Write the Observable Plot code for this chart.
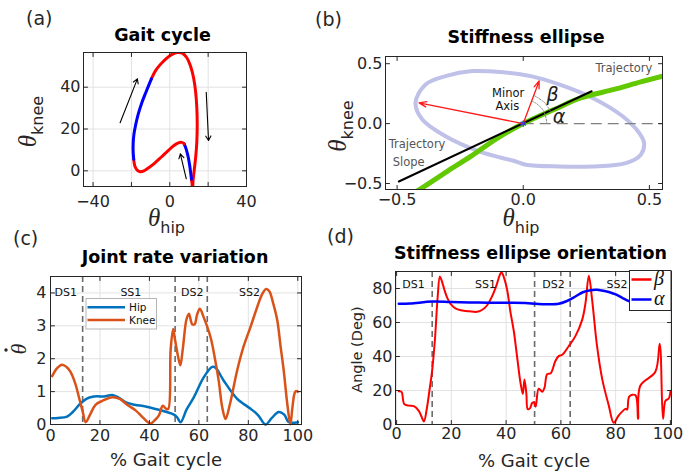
<!DOCTYPE html>
<html><head><meta charset="utf-8">
<script src="https://cdn.jsdelivr.net/npm/d3@7"></script>
<script src="https://cdn.jsdelivr.net/npm/@observablehq/plot@0.6"></script>
<style>
html,body{margin:0;padding:0;background:#fff;}
#root{position:relative;width:683px;height:475px;overflow:hidden;background:#fff;}
#root > svg{position:absolute;}
</style></head><body><div id="root"></div>
<script>
// ---------------- DATA ----------------
// (a) Gait cycle: hip vs knee angle, by segment
const gaitSegColors = ["red", "blue", "red", "blue"];
const gaitSeg0Hip  = [-9.6,-7.5,-5,-2,1,4,6.5,8.8,10.8,12.4,13.5,14.1,14.3,14.1,13.5,12.7,12.1,11.9,11.6,11.3];
const gaitSeg0Knee = [44,47.8,50.8,53.6,55.6,56.6,56.3,54.2,50.2,44.5,37.5,30,22,14,6.5,0,-5,-9,-6,-4];
const gaitSeg1Hip  = [11.3,10.9,10.3,9.5,8.5,7.5];
const gaitSeg1Knee = [-4,-1,3,7,10.5,12.9];
const gaitSeg2Hip  = [7.5,6.2,4.5,2,-1,-4.5,-8,-11,-13.5,-15.5,-17,-18.2,-18.8];
const gaitSeg2Knee = [12.9,13.6,13.4,12,9.5,6.5,3.6,1.5,0,-0.4,0.3,2.2,5.5];
const gaitSeg3Hip  = [-18.8,-19.1,-19.1,-18.7,-17.8,-16.5,-14.8,-12.5,-9.6];
const gaitSeg3Knee = [5.5,9,13,17.5,22,27,32,37.5,44];
const gaitArrowX1 = [-25.9, 19, 8.6];
const gaitArrowY1 = [23, 37.6, -3.8];
const gaitArrowX2 = [-16.9, 20.2, 5.5];
const gaitArrowY2 = [44, 14.5, 8.1];

// (b) Stiffness ellipse
const ellipseX = [-0.427,-0.387,-0.308,-0.202,-0.089,0.030,0.142,0.275,0.394,0.460,0.479,0.466,0.407,0.275,0.142,0.010,-0.030,-0.175,-0.308,-0.400];
const ellipseY = [0.173,0.327,0.396,0.438,0.430,0.396,0.327,0.214,0.061,-0.079,-0.162,-0.260,-0.330,-0.358,-0.358,-0.343,-0.316,-0.232,-0.106,0.034];
const trajX = [-0.45,-0.413,-0.301,-0.208,-0.102,0,0.122,0.228,0.360,0.466,0.56];
const trajY = [-0.60,-0.553,-0.398,-0.274,-0.121,0,0.117,0.214,0.285,0.348,0.40];
const slopeX = [-0.493, 0.271];
const slopeY = [-0.483, 0.27];
const axisArrowX2 = [-0.413, 0.063];   // major, minor axis tips
const axisArrowY2 = [0.173, 0.356];
const arcAlphaX = [0.094,0.082,0.054,0.032];
const arcAlphaY = [0,0.1005,0.165,0.189];
const arcBetaX = [0.107,0.083,0.042];
const arcBetaY = [0.106,0.178,0.235];
const bLabels = ["Trajectory","Minor","Axis","Trajectory","Slope"];
const bLabelX = [0.399,-0.060,-0.063,-0.421,-0.454];
const bLabelY = [0.463,0.252,0.145,-0.173,-0.327];
const bLabelFill = ["#555","#111","#111","#555","#555"];
const greekLabels = ["β","α"];
const greekX = [0.116, 0.142];
const greekY = [0.243, 0.053];

// (c) Joint rate variation
const hipPct  = [0.7,3,6.7,9,12,14.5,17.5,19,21.6,25,27.5,30.3,34,38.4,43.8,47,49.9,51.2,52.6,55,58,62,65.4,66.7,70,75.5,80.9,84,87,89.5,92.3,94.5,96.4,100];
const hipRate = [0.19,0.2,0.24,0.38,0.63,0.78,0.85,0.86,0.85,0.9,0.82,0.68,0.6,0.55,0.45,0.38,0.3,0.22,0.07,0.45,0.83,1.44,1.75,1.73,1.34,0.78,0.48,0.28,0.0,0.2,0.38,0.3,0.07,0.07];
const kneePct  = [0.7,2.5,4.7,6.5,8.1,10,11.5,13,14.2,16,18.2,21,25,28,31,34.4,37.5,40.4,42,43.8,45.4,46.7,47.6,48.6,49.6,50.3,51.5,52.5,53.5,55,56,57.3,58.3,59.3,60.4,62,64.7,66.5,68,69.5,70.8,72.5,75.5,78,80.9,83.5,85.5,87.2,88.5,90,91.7,93,94.3,95.8,97,97.8,98.7,99.3,100];
const kneeRate = [1.47,1.7,1.82,1.75,1.6,1.25,0.83,0.4,0.07,0.3,0.6,0.72,0.83,0.78,0.6,0.43,0.2,0.03,0.12,0.27,0.57,0.48,0.47,2.3,2.9,2.6,2.1,1.8,2.3,3.2,3.37,3.05,3.05,3.35,3.52,3.25,2.66,2.0,1.34,0.5,0.17,0.6,1.65,2.35,2.97,3.55,3.95,4.12,4.05,3.7,3.17,2.4,1.65,0.6,0.0,0.5,0.95,1.02,1.0];
const phaseBounds = [13, 50.4, 63.4];
const phaseNames = ["DS1","SS1","DS2","SS2"];
const phaseCenters = [6.2, 32.5, 57.3, 80.5];

// (d) Stiffness ellipse orientation
const betaPct = [0.8,1.8,2.8,4.5,6.3,8.1,9,10,11,12,13,14,15,15.8,16.5,17.5,18.5,19.7,21.5,23.5,26.5,29.4,31.3,33,34.9,36.5,37.7,38.3,39.3,40.4,41.6,42.8,44,45.3,46.1,46.7,47.4,47.9,48.7,49.5,50.2,50.8,51.9,53.2,54,55,56.3,58,59.2,60.5,62.9,65.3,67.8,69,70.2,71.4,73.2,75.1,77.5,79.3,81.1,83.6,84.2,85,87.2,88.2,89,94.5,96.1,97.3,98.2,99.4,100];
const betaDeg = [19.5,19.2,12,11.1,10.8,8,5,1.8,9,20,32,50,75,87,84.5,79,74.5,71,68.3,67.2,66.6,66.3,67.5,70,75.5,82,88,89.5,86,79,66,55,40,24,18,26.5,18,9,9.5,12.6,13,10.5,21,19.3,21.5,29.6,30.2,37.4,40.2,41,46.2,52,61.7,71.5,87.5,73.5,46.2,26.7,11.1,1,5.3,9.2,8.8,16.5,17.3,3.3,22.8,31,47.5,3.3,14,15.3,19.3];
const alphaPct = [0.8,5,13,20,30,40,47,51,55,59.2,62,65.3,68,70.8,73.2,75,77.5,80,82.4,85,90,95,100];
const alphaDeg = [71,71.2,72.3,72,71.7,71.6,71.5,71,70.7,71,72.5,75.3,77.8,79,79.2,78.8,77.9,76.5,74.5,72.5,71.5,71.3,71.3];

// ---------------- HELPERS ----------------
const FONT = '"DejaVu Sans", sans-serif';
const SERIF = '"Liberation Serif", "DejaVu Serif", serif';
const INK = "#262626";
const GRID = "#e2e2e2";
const root = document.getElementById("root");

const tickShape = {draw(ctx, l) { ctx.moveTo(0, 0); ctx.lineTo(0, -l); }};
function innerTicks(xt, yt) {
  const o = {length: 4, anchor: "start", shape: tickShape, stroke: INK, strokeWidth: 1};
  return [
    Plot.vector(xt, {...o, x: d => d, frameAnchor: "bottom", rotate: 0}),
    Plot.vector(xt, {...o, x: d => d, frameAnchor: "top", rotate: 180}),
    Plot.vector(yt, {...o, y: d => d, frameAnchor: "left", rotate: 90}),
    Plot.vector(yt, {...o, y: d => d, frameAnchor: "right", rotate: -90})
  ];
}
function place(svg, left, top) {
  svg.style.left = left + "px";
  svg.style.top = top + "px";
  svg.style.background = "transparent";
  root.appendChild(svg);
}
const baseStyle = {fontFamily: FONT, fontSize: "16px", color: INK, background: "transparent", overflow: "visible"};
const zip = (a, b, k1, k2) => a.map((v, i) => ({[k1]: v, [k2]: b[i]}));

// ---------------- (a) ----------------
const gaitRows = [];
[[gaitSeg0Hip, gaitSeg0Knee], [gaitSeg1Hip, gaitSeg1Knee], [gaitSeg2Hip, gaitSeg2Knee], [gaitSeg3Hip, gaitSeg3Knee]]
  .forEach(([h, k], s) => h.forEach((v, i) => gaitRows.push({hip: v, knee: k[i], seg: s, color: gaitSegColors[s]})));
const gaitArrows = gaitArrowX1.map((v, i) => ({x1: v, y1: gaitArrowY1[i], x2: gaitArrowX2[i], y2: gaitArrowY2[i]}));
const xtA = [-40, 0, 40], ytA = [0, 20, 40];
place(Plot.plot({
  width: 260, height: 230, marginLeft: 83, marginRight: 14, marginTop: 52, marginBottom: 44,
  x: {domain: [-45, 40], label: null}, y: {domain: [-7.5, 56.6], label: null},
  color: {type: "identity"}, style: baseStyle,
  marks: [
    Plot.gridX([-40, -20, 0, 20], {stroke: GRID, strokeOpacity: 1}),
    Plot.gridY(ytA, {stroke: GRID, strokeOpacity: 1}),
    Plot.line(gaitRows, {x: "hip", y: "knee", z: "seg", stroke: "color", strokeWidth: 3, curve: "catmull-rom", clip: true}),
    Plot.arrow(gaitArrows, {x1: "x1", y1: "y1", x2: "x2", y2: "y2", stroke: "black", strokeWidth: 1.1, headLength: 7}),
    Plot.frame({stroke: INK}),
    ...innerTicks([-40, -20, 0, 20, 40], ytA),
    Plot.axisX(xtA, {tickSize: 0, tickPadding: 9, label: null}),
    Plot.axisY(ytA, {tickSize: 0, tickPadding: 3, label: null})
  ]
}), 0, 0);

// ---------------- (b) ----------------
const ellipse = zip(ellipseX, ellipseY, "x", "y");
const traj = zip(trajX, trajY, "x", "y");
const slope = zip(slopeX, slopeY, "x", "y");
const axArrows = axisArrowX2.map((v, i) => ({x1: 0, y1: 0, x2: v, y2: axisArrowY2[i]}));
const arcs = [...arcAlphaX.map((v, i) => ({x: v, y: arcAlphaY[i], arc: "a"})), ...arcBetaX.map((v, i) => ({x: v, y: arcBetaY[i], arc: "b"}))];
const bText = bLabels.map((t, i) => ({t, x: bLabelX[i], y: bLabelY[i], fill: bLabelFill[i]}));
const gText = greekLabels.map((t, i) => ({t, x: greekX[i], y: greekY[i]}));
const bX = [-0.546, 0.552], bY = [-0.55, 0.56];
const tB = [-0.5, 0, 0.5];
place(Plot.plot({
  width: 363, height: 230, marginLeft: 65, marginRight: 21, marginTop: 56, marginBottom: 41,
  x: {domain: bX, label: null}, y: {domain: bY, label: null},
  color: {type: "identity"}, style: baseStyle,
  marks: [
    Plot.line(ellipse, {x: "x", y: "y", curve: "catmull-rom-closed", stroke: "#bfc1e9", strokeWidth: 4}),
    Plot.ruleY([0], {x1: 0, x2: bX[1], stroke: "#808080", strokeWidth: 1.3, strokeDasharray: "11,6"}),
    Plot.line(traj, {x: "x", y: "y", curve: "catmull-rom", stroke: "#62c800", strokeWidth: 5, clip: true}),
    Plot.line(slope, {x: "x", y: "y", stroke: "black", strokeWidth: 2}),
    Plot.line(arcs, {x: "x", y: "y", z: "arc", curve: "catmull-rom", stroke: "#8a8a8a", strokeWidth: 1, strokeDasharray: "1.5,1.5"}),
    Plot.arrow(axArrows, {x1: "x1", y1: "y1", x2: "x2", y2: "y2", stroke: "#ff1a1a", strokeWidth: 1.3, headLength: 9, headAngle: 40}),
    Plot.dot([{x: 0, y: 0}], {x: "x", y: "y", symbol: "asterisk", r: 3, stroke: "#3b3bff", strokeWidth: 1.2}),
    Plot.text(bText, {x: "x", y: "y", text: "t", fill: "fill", fontSize: 11.5, textAnchor: "middle"}),
    Plot.text(gText, {x: "x", y: "y", text: "t", fill: "#222", fontSize: 19, fontStyle: "italic", textAnchor: "middle"}),
    Plot.frame({stroke: INK}),
    ...innerTicks(tB, tB),
    Plot.axisX(tB, {tickSize: 0, tickPadding: 4, label: null}),
    Plot.axisY(tB, {tickSize: 0, tickPadding: 3, label: null})
  ]
}), 320, 0);

// ---------------- (c) ----------------
const hip = zip(hipPct, hipRate, "p", "v");
const knee = zip(kneePct, kneeRate, "p", "v");
const phases = phaseNames.map((n, i) => ({n, p: phaseCenters[i]}));
const xtC = [0, 20, 40, 60, 80, 100], ytC = [0, 1, 2, 3, 4];
place(Plot.plot({
  width: 340, height: 235, marginLeft: 50, marginRight: 39, marginTop: 36, marginBottom: 51,
  x: {domain: [0, 101.5], label: null}, y: {domain: [0, 4.5], label: null},
  style: baseStyle,
  marks: [
    Plot.gridX(xtC, {stroke: GRID, strokeOpacity: 1}),
    Plot.gridY(ytC, {stroke: GRID, strokeOpacity: 1}),
    Plot.ruleX(phaseBounds, {stroke: "#6a6a6a", strokeWidth: 1.6, strokeDasharray: "6,4"}),
    Plot.line(hip, {x: "p", y: "v", stroke: "#0072BD", strokeWidth: 2.5, curve: "catmull-rom"}),
    Plot.line(knee, {x: "p", y: "v", stroke: "#D95319", strokeWidth: 2.5, curve: "catmull-rom"}),
    Plot.text(phases, {x: "p", text: "n", frameAnchor: "top", dy: 11.5, fontSize: 11, fill: "#111"}),
    Plot.frame({stroke: INK}),
    ...innerTicks(xtC, ytC),
    Plot.axisX(xtC, {tickSize: 0, tickPadding: 5, label: null}),
    Plot.axisY(ytC, {tickSize: 0, tickPadding: 4, label: null})
  ]
}), 0, 240);

// ---------------- (d) ----------------
const beta = zip(betaPct, betaDeg, "p", "v");
const alpha = zip(alphaPct, alphaDeg, "p", "v");
const xtD = [0, 20, 40, 60, 80, 100], ytD = [0, 20, 40, 60, 80];
place(Plot.plot({
  width: 343, height: 235, marginLeft: 55, marginRight: 12, marginTop: 31, marginBottom: 51,
  x: {domain: [-0.4, 100.4], label: null}, y: {domain: [0, 90], label: null},
  style: baseStyle,
  marks: [
    Plot.gridX(xtD, {stroke: GRID, strokeOpacity: 1}),
    Plot.gridY(ytD, {stroke: GRID, strokeOpacity: 1}),
    Plot.ruleX(phaseBounds, {stroke: "#6a6a6a", strokeWidth: 1.6, strokeDasharray: "6,4"}),
    Plot.line(beta, {x: "p", y: "v", stroke: "#ff0000", strokeWidth: 2, curve: "catmull-rom", clip: true}),
    Plot.line(alpha, {x: "p", y: "v", stroke: "#0000ff", strokeWidth: 2.5, curve: "catmull-rom"}),
    Plot.text(phases, {x: "p", text: "n", frameAnchor: "top", dy: 9, fontSize: 11, fill: "#111"}),
    Plot.frame({stroke: INK}),
    ...innerTicks(xtD, ytD),
    Plot.axisX(xtD.slice(0, -1), {tickSize: 0, tickPadding: 3, label: null}),
    Plot.axisX(xtD.slice(-1), {tickSize: 0, tickPadding: 3, label: null, dx: -2.5}),
    Plot.axisY(ytD, {tickSize: 0, tickPadding: 3, label: null})
  ]
}), 340, 240);

// ---------------- overlay: titles, labels, legends ----------------
const ov = d3.create("svg").attr("width", 683).attr("height", 475)
  .style("position", "absolute").style("left", "0px").style("top", "0px")
  .style("font-family", FONT).style("pointer-events", "none");
function txt(x, y, s, o = {}) {
  const t = ov.append("text").attr("x", x).attr("y", y).attr("fill", o.fill || INK)
    .attr("font-size", o.size || 16).attr("text-anchor", o.anchor || "start").text(s);
  if (o.bold) t.attr("font-weight", "bold");
  if (o.family) t.attr("font-family", o.family);
  if (o.italic) t.attr("font-style", "italic");
  if (o.rotate) t.attr("transform", `rotate(${o.rotate},${x},${y})`);
  return t;
}
function theta(x, y, sub, rot, size = 25) {
  const t = ov.append("text").attr("transform", `translate(${x},${y}) rotate(${rot})`)
    .attr("text-anchor", "middle").attr("fill", INK);
  t.append("tspan").attr("font-family", SERIF).attr("font-style", "italic").attr("font-size", size).text("θ");
  if (sub) t.append("tspan").attr("font-size", 16).attr("dy", 7).text(sub);
}
// titles
const titles = ["Gait cycle", "Stiffness ellipse", "Joint rate variation", "Stiffness ellipse orientation"];
const titlePos = [[162.5, 40.5], [526, 42.5], [175, 263], [530.5, 259]];
titles.forEach((s, i) => txt(titlePos[i][0], titlePos[i][1], s, {bold: true, size: 17.5, anchor: "middle", fill: "#000"}));
// panel letters
[["(a)", 26, 25], ["(b)", 315, 26], ["(c)", 13, 245], ["(d)", 327, 243]].forEach(([s, x, y]) => txt(x, y, s, {size: 19}));
// axis labels
theta(36, 121.5, "knee", -90);
theta(166.5, 226, "hip", 0);
theta(346, 126, "knee", -90);
theta(521, 226, "hip", 0);
// theta-dot (rate) label on panel (c)
theta(26, 349, null, -90, 22);
ov.append("circle").attr("cx", 6).attr("cy", 350).attr("r", 1.7).attr("fill", INK);
txt(166, 466, "% Gait cycle", {size: 18, anchor: "middle"});
txt(534, 467, "% Gait cycle", {size: 18, anchor: "middle"});
txt(362, 349.5, "Angle (Deg)", {size: 14.5, anchor: "middle", rotate: -90});
// legend (c)
const legC = [["Hip", "#0072BD", 307.3], ["Knee", "#D95319", 320]];
ov.append("rect").attr("x", 86).attr("y", 298.5).attr("width", 70.5).attr("height", 30.5)
  .attr("fill", "white").attr("stroke", "#b5b5b5").attr("stroke-width", 1);
legC.forEach(([s, c, y]) => {
  ov.append("line").attr("x1", 87.5).attr("x2", 125).attr("y1", y).attr("y2", y).attr("stroke", c).attr("stroke-width", 2.5);
  txt(129, y + 4, s, {size: 10.5, fill: "#111"});
});
// legend (d)
const legD = [["β", "#ff0000", 279.5], ["α", "#0000ff", 299.5]];
ov.append("rect").attr("x", 629.5).attr("y", 270.5).attr("width", 41.5).attr("height", 40)
  .attr("fill", "white").attr("stroke", INK).attr("stroke-width", 1);
legD.forEach(([s, c, y]) => {
  ov.append("line").attr("x1", 631.5).attr("x2", 651.5).attr("y1", y).attr("y2", y).attr("stroke", c).attr("stroke-width", 2.5);
  txt(654, y + 5, s, {size: 20, family: SERIF, italic: true, fill: "#111"});
});
root.appendChild(ov.node());
</script></body></html>
